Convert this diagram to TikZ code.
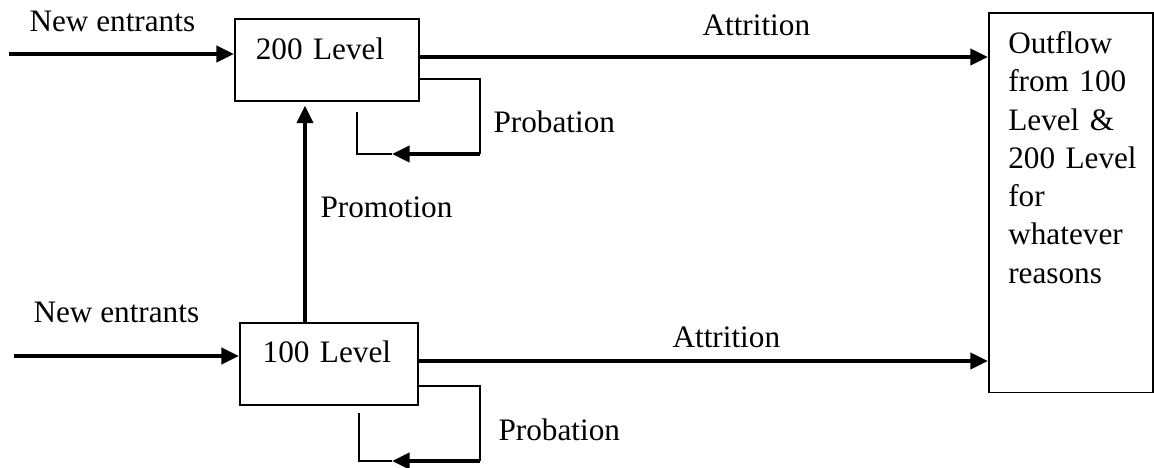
\documentclass[tikz,border=0pt]{standalone}
\usepackage{fontspec}
\setmainfont{Liberation Serif}
\usetikzlibrary{arrows.meta}

\tikzset{
  box/.style={draw,line width=0.6pt,inner ysep=0pt,align=left},
  flow/.style={line width=1.5pt,-{Triangle[length=6.8pt,width=6.2pt]}},
  thinline/.style={line width=0.5pt},
  lbl/.style={inner sep=0pt,anchor=base west}
}

\begin{document}
\begin{tikzpicture}[line join=miter,x=0.0135cm,y=-0.0135cm,font=\fontsize{12}{14.7}\selectfont]
\useasboundingbox (0,0) rectangle (1154,468);

\node[box,anchor=north west,inner xsep=8.1pt,text width=54.5pt,text height=15.7pt,text depth=15.8pt] (lvltwo) at (234,18) {200 Level};
\node[box,anchor=north west,inner xsep=8.8pt,text width=50.8pt,text height=15.4pt,text depth=16.1pt] (lvlone) at (239,322) {100 Level};
\node[box,anchor=north west,inner xsep=7.5pt,text width=48pt,text height=15.7pt,text depth=130.2pt] (outflow) at (988,12) {Outflow\\from 100\\Level \&\\200~Level\\for\\whatever\\reasons};

\coordinate (in2) at (9,54);
\coordinate (in1) at (14,356);
\draw[flow] (in2) -- (in2 -| lvltwo.west);
\draw[flow] (in1) -- (in1 -| lvlone.west);
\node[lbl] (ent2) at (29,32) {New entrants};
\node[lbl] (ent1) at (33,322) {New entrants};

\coordinate (att2) at (700,57);
\coordinate (att1) at (700,361);
\draw[flow] (att2 -| lvltwo.east) -- (att2 -| outflow.west);
\draw[flow] (att1 -| lvlone.east) -- (att1 -| outflow.west);
\node[lbl] (attlbl2) at (702,36) {Attrition};
\node[lbl] (attlbl1) at (672,347) {Attrition};

\coordinate (pr) at (305,200);
\draw[flow,shorten >=1.5pt] (pr |- lvlone.north) -- (pr |- lvltwo.south);
\node[lbl] (prlbl) at (320,217) {Promotion};

\coordinate (lp2a) at (480,79);
\coordinate (lp2b) at (480,154);
\coordinate (lp2c) at (392,154);
\coordinate (lp2d) at (357,112);
\draw[thinline] (lp2a -| lvltwo.east) -- (lp2a) -- (lp2b);
\draw[flow] (lp2b) -- (lp2c);
\draw[thinline] (lp2c) -| (lp2d);
\node[lbl] (pblbl2) at (493,133) {Probation};

\coordinate (lp1a) at (480,386);
\coordinate (lp1b) at (480,461);
\coordinate (lp1c) at (392,461);
\coordinate (lp1d) at (359,413);
\draw[thinline] (lp1a -| lvlone.east) -- (lp1a) -- (lp1b);
\draw[flow] (lp1b) -- (lp1c);
\draw[thinline] (lp1c) -| (lp1d);
\node[lbl] (pblbl1) at (498,440) {Probation};
\end{tikzpicture}
\end{document}
